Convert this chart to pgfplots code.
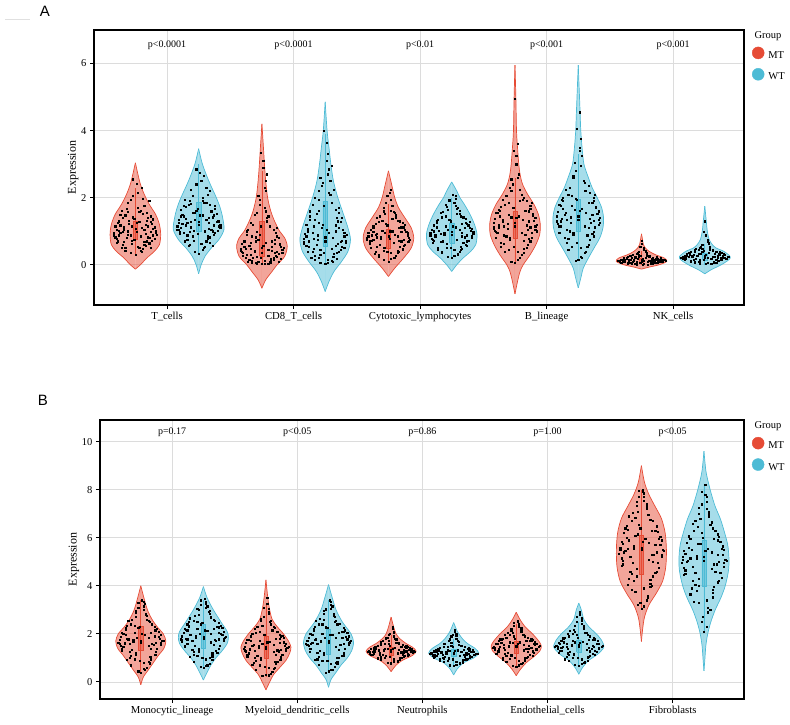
\documentclass[border=0pt]{standalone}
\usepackage{fontspec}
\setmainfont{Liberation Serif}
\newfontfamily\panelfont{Liberation Sans}
\usepackage{pgfplots}
\pgfplotsset{compat=1.18}
\definecolor{MT}{HTML}{E64B35}
\definecolor{WT}{HTML}{4DBBD5}
\definecolor{gridc}{HTML}{DCDCDC}

% violin outline: #1 id (unused), #2 centre, #3 colour, #4 table (y, half-width)
\newcommand{\violin}[4]{%
  \addplot[fill=#3, fill opacity=0.5, draw=#3, line width=0.7pt, smooth] table[row sep=\\, x expr=#2+\thisrow{w}, y=y]{#4};
  \addplot[fill=#3, fill opacity=0.5, draw=#3, line width=0.7pt, smooth] table[row sep=\\, x expr=#2-\thisrow{w}, y=y]{#4};
}
% inner box: #1 pos, #2 colour, #3 lower whisker, #4 q1, #5 median, #6 q3, #7 upper whisker
\newcommand{\inbox}[7]{%
  \addplot[draw=#2, line width=0.7pt] table[row sep=\\, x expr=#1, y=y]{y\\ #3\\ #7\\};
  \addplot[fill=#2, fill opacity=0.55, draw=#2, line width=0.5pt] table[row sep=\\, x expr=#1+\thisrow{d}, y=y]{d y\\ -0.0175 #4\\ 0.0175 #4\\ 0.0175 #6\\ -0.0175 #6\\ -0.0175 #4\\};
}
% jittered points: #1 centre, #2 table (x offset, y)
\newcommand{\pts}[2]{%
  \addplot[only marks, mark=square*, mark size=0.6pt, black] table[row sep=\\, x expr=#1+\thisrow{x}, y=y]{#2};
}

\pgfplotsset{vplot/.style={
  scale only axis, anchor=south west, clip mode=individual,
  xtick={1,2,3,4,5}, tick pos=left, tick align=outside, major tick length=4pt,
  grid=major, grid style={gridc, line width=0.8pt},
  axis line style={black, line width=1.2pt},
  tick style={black, line width=1pt},
  yticklabel style={font=\fontsize{10.5}{12}\selectfont},
  xticklabel style={font=\fontsize{10.7}{12}\selectfont},
  /pgf/number format/assume math mode=true,
  ylabel={Expression}, ylabel style={font=\fontsize{12}{13}\selectfont}, ylabel shift=-4pt,
  legend style={draw=none, fill=none, anchor=north west, inner sep=0pt,
    font=\fontsize{10.5}{12}\selectfont, row sep=6pt,
    /tikz/every odd column/.append style={column sep=2pt}},
  legend cell align=left,
}}

\begin{document}
\begin{tikzpicture}
\useasboundingbox (0,0) rectangle (790pt,-725pt);
\draw[black!12, line width=0.6pt] (5pt,-19pt) -- (30pt,-19pt);
\node[font=\panelfont\fontsize{15}{16}\selectfont] at (45pt,-11pt) {A};
\node[font=\panelfont\fontsize{15}{16}\selectfont] at (43pt,-400pt) {B};

% ================= Panel A =================
\begin{axis}[vplot,
  at={(94pt,-305pt)}, width=650pt, height=275pt,
  xmin=0.423, xmax=5.56, ymin=-1.2, ymax=7.0,
  ytick={0,2,4,6},
  xticklabels={T\_cells, CD8\_T\_cells, Cytotoxic\_lymphocytes, B\_lineage, NK\_cells},
  legend style={at={(rel axis cs:1.012,0.94)}},
]
\addlegendimage{legend image code/.code={\fill[MT] (6pt,0.3em) circle (6pt);}}
\addlegendentry{MT}
\addlegendimage{legend image code/.code={\fill[WT] (6pt,0.3em) circle (6pt);}}
\addlegendentry{WT}

% T cells MT
\violin{a1}{0.75}{MT}{y w\\ -0.13 0\\ 0 0.04\\ 0.2 0.09\\ 0.4 0.15\\ 0.6 0.19\\ 0.9 0.2\\ 1.2 0.19\\ 1.5 0.16\\ 1.8 0.11\\ 2.1 0.07\\ 2.4 0.04\\ 2.7 0.02\\ 3.04 0\\}
\inbox{0.75}{MT}{0.3}{0.75}{1.0}{1.3}{2.3}
\pts{0.75}{x y\\ -0.12 0.95\\ 0.05 1.10\\ 0.14 0.88\\ -0.03 0.72\\ 0.09 1.32\\ -0.15 1.05\\ 0.02 0.55\\ -0.08 1.48\\ 0.11 0.64\\ -0.16 0.82\\ 0.16 1.02\\ -0.05 1.22\\ 0.07 1.75\\ -0.10 0.60\\ 0.01 0.98\\ 0.12 1.45\\ -0.13 1.30\\ -0.02 2.05\\ 0.04 0.42\\ -0.07 0.80\\ 0.15 0.78\\ 0.08 0.92\\ -0.11 1.62\\ 0.03 1.58\\ -0.04 0.36\\ 0.10 1.15\\ -0.14 0.70\\ 0.06 0.48\\ -0.09 1.12\\ 0.13 1.22\\ -0.01 1.38\\ 0.05 2.30\\ -0.06 1.85\\ 0.00 0.30\\ 0.09 0.70\\ -0.17 0.96\\ 0.17 0.90\\ -0.03 0.62\\ 0.02 1.70\\ -0.12 1.18\\ 0.07 1.05\\ -0.08 0.50\\ 0.11 1.90\\ -0.02 2.55\\ 0.04 0.85\\ -0.15 0.66\\ 0.14 1.36\\ -0.06 1.00\\ 0.08 0.58\\ -0.10 1.40\\ 0.01 1.26\\ 0.12 0.52\\ -0.04 1.95\\ 0.06 1.52\\ -0.13 0.88\\}
\pts{0.75}{x y\\ 0.10 0.82\\ -0.06 0.90\\ 0.15 1.12\\ -0.13 1.02\\ 0.03 1.28\\ -0.09 0.68\\ 0.12 0.98\\ -0.16 1.15\\ 0.07 0.60\\ -0.02 1.42\\ 0.13 0.72\\ -0.11 0.52\\ 0.00 1.08\\ 0.09 1.55\\ -0.07 1.68\\ 0.05 0.38\\ -0.14 1.25\\ 0.16 0.95\\ -0.04 0.88\\ 0.08 1.20\\ -0.10 0.98\\ 0.02 2.15\\ -0.05 1.32\\ 0.11 0.80\\ -0.17 0.88\\ 0.04 1.62\\ -0.08 0.42\\ 0.14 1.08\\ -0.01 0.75\\ 0.06 1.98\\ -0.12 1.50\\ 0.10 1.40\\ -0.03 1.15\\ 0.01 2.42\\ -0.15 0.78\\ 0.07 0.68\\ -0.06 1.58\\ 0.12 1.28\\ -0.09 1.05\\ 0.03 0.50\\}

% T cells WT
\violin{a2}{1.25}{WT}{y w\\ -0.27 0\\ 0 0.02\\ 0.25 0.05\\ 0.5 0.1\\ 0.75 0.16\\ 1.05 0.2\\ 1.4 0.19\\ 1.7 0.17\\ 2.0 0.14\\ 2.5 0.08\\ 3.0 0.03\\ 3.46 0\\}
\inbox{1.25}{WT}{0.3}{1.0}{1.35}{1.85}{3.0}
\pts{1.25}{x y\\ -0.14 1.10\\ 0.06 1.35\\ 0.15 1.02\\ -0.05 0.85\\ 0.10 1.60\\ -0.16 1.25\\ 0.02 0.62\\ -0.08 1.80\\ 0.12 0.90\\ -0.12 1.45\\ 0.17 1.18\\ -0.03 1.55\\ 0.07 2.10\\ -0.09 0.75\\ 0.00 1.20\\ 0.13 1.75\\ -0.14 1.65\\ -0.02 2.40\\ 0.04 0.50\\ -0.07 0.98\\ 0.16 1.30\\ 0.08 1.08\\ -0.11 1.95\\ 0.03 1.90\\ -0.03 0.40\\ 0.11 1.42\\ -0.15 0.92\\ 0.06 0.70\\ -0.10 1.38\\ 0.14 1.52\\ -0.01 1.68\\ 0.04 2.65\\ -0.06 2.25\\ 0.00 0.32\\ 0.09 0.82\\ -0.17 1.15\\ 0.17 1.10\\ -0.04 0.72\\ 0.03 2.00\\ -0.13 1.50\\ 0.08 1.25\\ -0.07 0.60\\ 0.09 2.20\\ -0.02 2.85\\ 0.05 1.00\\ -0.16 1.05\\ 0.13 1.68\\ -0.06 1.28\\ 0.09 0.65\\ -0.10 1.72\\ 0.01 1.48\\ 0.11 0.58\\ -0.05 2.05\\ 0.06 1.85\\ -0.12 0.95\\}
\pts{1.25}{x y\\ 0.10 1.05\\ -0.06 1.12\\ 0.15 1.30\\ -0.13 1.22\\ 0.03 1.48\\ -0.09 0.88\\ 0.12 1.18\\ -0.16 1.35\\ 0.07 0.78\\ -0.02 1.62\\ 0.13 0.95\\ -0.11 0.70\\ 0.00 1.28\\ 0.09 1.78\\ -0.07 1.92\\ 0.05 0.55\\ -0.14 1.45\\ 0.16 1.15\\ -0.04 1.02\\ 0.08 1.40\\ -0.10 1.18\\ 0.02 2.50\\ -0.05 1.55\\ 0.11 1.00\\ -0.17 1.05\\ 0.04 1.85\\ -0.08 0.58\\ 0.14 1.28\\ -0.01 0.92\\ 0.06 2.30\\ -0.12 1.75\\ 0.10 1.62\\ -0.03 1.35\\ 0.01 2.75\\ -0.15 0.98\\ 0.07 0.85\\ -0.06 1.82\\ 0.12 1.48\\ -0.09 1.25\\ 0.03 0.45\\}

% CD8 MT
\violin{a3}{1.75}{MT}{y w\\ -0.7 0\\ -0.45 0.03\\ -0.2 0.08\\ 0 0.12\\ 0.25 0.18\\ 0.55 0.2\\ 0.8 0.18\\ 1.0 0.14\\ 1.3 0.1\\ 1.6 0.07\\ 2.0 0.045\\ 2.5 0.03\\ 3.0 0.02\\ 3.5 0.012\\ 4.2 0\\}
\inbox{1.75}{MT}{0.0}{0.25}{0.55}{1.3}{2.8}
\pts{1.75}{x y\\ -0.12 0.30\\ 0.05 0.45\\ 0.15 0.18\\ -0.03 0.08\\ 0.10 0.62\\ -0.16 0.40\\ 0.02 0.12\\ -0.08 0.85\\ 0.12 0.25\\ -0.14 0.55\\ 0.17 0.50\\ -0.05 0.70\\ 0.04 1.30\\ -0.10 0.15\\ 0.00 0.35\\ 0.11 0.95\\ -0.11 1.05\\ -0.02 1.80\\ 0.07 0.05\\ -0.07 0.22\\ 0.16 0.35\\ 0.08 0.42\\ -0.06 1.50\\ 0.03 1.60\\ -0.04 0.03\\ 0.10 0.75\\ -0.15 0.28\\ 0.06 0.10\\ -0.09 0.65\\ 0.13 0.80\\ -0.01 1.15\\ 0.02 2.30\\ -0.03 2.05\\ 0.00 0.02\\ 0.09 0.20\\ -0.17 0.48\\ 0.14 0.60\\ -0.05 0.06\\ 0.01 3.10\\ -0.12 0.90\\ 0.08 0.55\\ -0.08 0.12\\ 0.04 2.70\\ -0.01 3.35\\ 0.05 0.28\\ -0.13 0.20\\ 0.12 1.10\\ -0.06 0.38\\ 0.09 0.15\\ -0.09 1.25\\ 0.01 0.58\\ 0.13 0.08\\ -0.02 1.95\\ 0.05 1.45\\ -0.14 0.72\\ 0.03 2.50\\ -0.04 0.98\\}
\pts{1.75}{x y\\ 0.10 0.35\\ -0.06 0.42\\ 0.15 0.55\\ -0.13 0.48\\ 0.03 0.65\\ -0.09 0.30\\ 0.12 0.40\\ -0.16 0.62\\ 0.07 0.18\\ -0.02 0.90\\ 0.13 0.32\\ -0.11 0.10\\ 0.00 0.52\\ 0.09 1.05\\ -0.07 1.20\\ 0.05 0.04\\ -0.14 0.68\\ 0.16 0.45\\ -0.04 0.25\\ 0.08 0.70\\ -0.10 0.58\\ 0.02 1.70\\ -0.05 0.82\\ 0.11 0.28\\ -0.17 0.42\\ 0.04 1.40\\ -0.08 0.05\\ 0.14 0.62\\ -0.01 0.20\\ 0.03 2.20\\ -0.12 1.00\\ 0.06 1.15\\ -0.03 0.75\\ 0.01 2.90\\ -0.15 0.35\\ 0.07 0.12\\ -0.04 1.55\\ 0.12 0.85\\ -0.09 0.48\\ 0.02 0.02\\}

% CD8 WT
\violin{a4}{2.25}{WT}{y w\\ -0.8 0\\ -0.5 0.03\\ -0.2 0.07\\ 0.1 0.13\\ 0.4 0.18\\ 0.75 0.2\\ 1.1 0.18\\ 1.5 0.145\\ 2.0 0.1\\ 2.5 0.065\\ 3.0 0.045\\ 3.5 0.03\\ 4.0 0.015\\ 4.86 0\\}
\inbox{2.25}{WT}{0.0}{0.55}{1.0}{1.9}{3.9}
\pts{2.25}{x y\\ -0.13 0.55\\ 0.06 0.80\\ 0.16 0.65\\ -0.04 0.30\\ 0.11 1.10\\ -0.17 0.78\\ 0.02 0.15\\ -0.08 1.35\\ 0.12 0.45\\ -0.14 1.00\\ 0.17 0.90\\ -0.05 1.25\\ 0.05 1.85\\ -0.10 0.40\\ 0.00 0.70\\ 0.11 1.55\\ -0.12 1.60\\ -0.03 2.35\\ 0.06 0.10\\ -0.07 0.60\\ 0.15 0.95\\ 0.08 0.58\\ -0.08 2.00\\ 0.03 2.15\\ -0.04 0.05\\ 0.10 1.30\\ -0.15 0.85\\ 0.06 0.25\\ -0.09 1.15\\ 0.13 1.40\\ -0.01 1.75\\ 0.03 2.85\\ -0.04 2.60\\ 0.00 0.02\\ 0.09 0.35\\ -0.17 0.62\\ 0.15 0.50\\ -0.05 0.20\\ 0.01 3.65\\ -0.12 1.45\\ 0.08 1.00\\ -0.08 0.28\\ 0.05 2.95\\ -0.01 4.00\\ 0.05 0.48\\ -0.14 0.38\\ 0.11 1.70\\ -0.06 0.88\\ 0.09 0.18\\ -0.10 1.80\\ 0.01 1.05\\ 0.13 0.72\\ -0.02 2.45\\ 0.07 2.25\\ -0.15 1.20\\ 0.02 3.30\\ -0.05 1.95\\}
\pts{2.25}{x y\\ 0.10 0.62\\ -0.06 0.75\\ 0.15 0.85\\ -0.13 0.70\\ 0.03 0.95\\ -0.09 0.48\\ 0.12 0.68\\ -0.16 0.92\\ 0.07 0.32\\ -0.02 1.20\\ 0.13 0.55\\ -0.11 0.22\\ 0.00 0.82\\ 0.09 1.40\\ -0.07 1.52\\ 0.05 0.12\\ -0.14 1.08\\ 0.16 0.72\\ -0.04 0.45\\ 0.08 1.18\\ -0.10 0.95\\ 0.02 2.70\\ -0.05 1.62\\ 0.11 0.40\\ -0.17 0.68\\ 0.04 2.10\\ -0.08 0.15\\ 0.14 1.05\\ -0.01 0.35\\ 0.04 2.50\\ -0.12 1.35\\ 0.08 1.65\\ -0.03 1.10\\ 0.01 3.10\\ -0.15 0.58\\ 0.07 0.25\\ -0.05 2.20\\ 0.12 1.28\\ -0.09 0.78\\ 0.02 0.05\\}

% Cytotoxic MT
\violin{a5}{2.75}{MT}{y w\\ -0.35 0\\ -0.1 0.05\\ 0.2 0.12\\ 0.5 0.18\\ 0.8 0.2\\ 1.1 0.18\\ 1.4 0.13\\ 1.7 0.08\\ 2.0 0.05\\ 2.4 0.025\\ 2.8 0\\}
\inbox{2.75}{MT}{0.1}{0.5}{0.75}{1.05}{1.8}
\pts{2.75}{x y\\ -0.12 0.75\\ 0.05 0.90\\ 0.15 0.68\\ -0.03 0.52\\ 0.10 1.12\\ -0.16 0.85\\ 0.02 0.35\\ -0.08 1.28\\ 0.11 0.44\\ -0.15 0.62\\ 0.16 0.80\\ -0.05 1.02\\ 0.05 1.55\\ -0.10 0.40\\ 0.01 0.78\\ 0.11 1.25\\ -0.12 1.10\\ -0.02 1.85\\ 0.04 0.22\\ -0.07 0.60\\ 0.15 0.95\\ 0.08 0.72\\ -0.09 1.40\\ 0.03 1.38\\ -0.04 0.15\\ 0.10 0.98\\ -0.14 0.50\\ 0.06 0.28\\ -0.09 0.92\\ 0.13 1.05\\ -0.01 1.18\\ 0.02 2.25\\ -0.04 1.70\\ 0.00 0.10\\ 0.09 0.55\\ -0.17 0.80\\ 0.17 0.75\\ -0.04 0.42\\ 0.02 1.62\\ -0.12 0.98\\ 0.07 0.85\\ -0.08 0.30\\ 0.06 1.48\\ -0.01 2.05\\ 0.04 0.65\\ -0.15 0.70\\ 0.13 1.20\\ -0.06 0.82\\ 0.08 0.38\\ -0.10 1.22\\ 0.01 1.00\\ 0.12 0.58\\ -0.03 1.52\\ 0.07 1.32\\ -0.13 0.88\\}
\pts{2.75}{x y\\ 0.10 0.70\\ -0.06 0.78\\ 0.15 0.88\\ -0.13 0.72\\ 0.03 1.00\\ -0.09 0.55\\ 0.12 0.75\\ -0.16 0.95\\ 0.07 0.42\\ -0.02 1.22\\ 0.13 0.60\\ -0.11 0.32\\ 0.00 0.85\\ 0.09 1.30\\ -0.07 1.45\\ 0.05 0.20\\ -0.14 1.05\\ 0.16 0.70\\ -0.04 0.50\\ 0.08 1.10\\ -0.10 0.90\\ 0.02 1.95\\ -0.05 1.32\\ 0.11 0.48\\ -0.17 0.75\\ 0.04 1.58\\ -0.08 0.25\\ 0.14 0.98\\ -0.01 0.40\\ 0.03 1.75\\ -0.12 1.15\\ 0.06 1.40\\ -0.03 0.95\\ 0.01 2.15\\ -0.15 0.62\\ 0.07 0.35\\ -0.04 1.60\\ 0.12 1.12\\ -0.09 0.82\\ 0.02 0.18\\}

% Cytotoxic WT
\violin{a6}{3.25}{WT}{y w\\ -0.2 0\\ 0 0.04\\ 0.2 0.09\\ 0.4 0.15\\ 0.6 0.19\\ 0.9 0.2\\ 1.2 0.18\\ 1.5 0.145\\ 1.8 0.1\\ 2.0 0.065\\ 2.2 0.04\\ 2.47 0\\}
\inbox{3.25}{WT}{0.2}{0.65}{0.92}{1.25}{2.0}
\pts{3.25}{x y\\ -0.13 0.88\\ 0.06 1.05\\ 0.16 0.80\\ -0.04 0.62\\ 0.11 1.25\\ -0.17 0.95\\ 0.02 0.45\\ -0.08 1.42\\ 0.12 0.58\\ -0.14 0.72\\ 0.17 0.92\\ -0.05 1.15\\ 0.05 1.70\\ -0.11 0.50\\ 0.00 0.90\\ 0.11 1.38\\ -0.12 1.30\\ -0.02 1.95\\ 0.05 0.30\\ -0.07 0.70\\ 0.16 1.08\\ 0.08 0.85\\ -0.09 1.55\\ 0.04 1.52\\ -0.03 0.25\\ 0.10 1.10\\ -0.15 0.65\\ 0.06 0.38\\ -0.10 1.02\\ 0.13 1.18\\ -0.01 1.30\\ 0.03 2.05\\ -0.05 1.80\\ 0.00 0.20\\ 0.09 0.65\\ -0.17 0.86\\ 0.17 0.98\\ -0.04 0.52\\ 0.03 1.75\\ -0.12 1.12\\ 0.08 0.96\\ -0.08 0.40\\ 0.06 1.62\\ -0.02 1.90\\ 0.04 0.75\\ -0.16 0.78\\ 0.14 1.28\\ -0.06 0.95\\ 0.08 0.48\\ -0.11 1.35\\ 0.01 1.15\\ 0.12 0.70\\ -0.03 1.65\\ 0.07 1.45\\ -0.14 1.00\\}
\pts{3.25}{x y\\ 0.10 0.82\\ -0.06 0.90\\ 0.15 1.02\\ -0.13 0.85\\ 0.03 1.12\\ -0.09 0.68\\ 0.12 0.88\\ -0.16 1.05\\ 0.07 0.55\\ -0.02 1.35\\ 0.13 0.72\\ -0.11 0.45\\ 0.00 0.98\\ 0.09 1.42\\ -0.07 1.58\\ 0.05 0.32\\ -0.14 1.18\\ 0.16 0.85\\ -0.04 0.62\\ 0.08 1.22\\ -0.10 1.02\\ 0.02 1.85\\ -0.05 1.45\\ 0.11 0.60\\ -0.17 0.90\\ 0.04 1.68\\ -0.08 0.35\\ 0.14 1.10\\ -0.01 0.50\\ 0.03 1.98\\ -0.12 1.25\\ 0.06 1.52\\ -0.03 1.05\\ 0.01 2.08\\ -0.15 0.75\\ 0.07 0.45\\ -0.04 1.72\\ 0.12 1.22\\ -0.09 0.92\\ 0.02 0.28\\}

% B lineage MT
\violin{a7}{3.75}{MT}{y w\\ -0.87 0\\ -0.5 0.02\\ -0.2 0.04\\ 0 0.065\\ 0.3 0.12\\ 0.6 0.165\\ 0.9 0.195\\ 1.2 0.2\\ 1.5 0.185\\ 1.8 0.15\\ 2.1 0.1\\ 2.4 0.06\\ 2.7 0.04\\ 3.0 0.03\\ 3.5 0.02\\ 4.0 0.012\\ 5.0 0.007\\ 5.95 0\\}
\inbox{3.75}{MT}{0.05}{0.8}{1.2}{1.6}{2.6}
\pts{3.75}{x y\\ -0.13 1.10\\ 0.06 1.35\\ 0.16 1.05\\ -0.04 0.75\\ 0.11 1.60\\ -0.17 1.25\\ 0.02 0.40\\ -0.08 1.80\\ 0.12 0.70\\ -0.14 0.95\\ 0.17 1.20\\ -0.05 1.50\\ 0.05 2.10\\ -0.11 0.55\\ 0.00 1.15\\ 0.12 1.75\\ -0.13 1.65\\ -0.02 2.40\\ 0.04 0.20\\ -0.07 0.85\\ 0.16 1.40\\ 0.08 0.90\\ -0.10 1.95\\ 0.04 1.90\\ -0.03 0.10\\ 0.11 1.30\\ -0.15 0.80\\ 0.07 0.35\\ -0.10 1.28\\ 0.14 1.52\\ -0.01 1.70\\ 0.01 3.00\\ -0.03 2.55\\ 0.00 0.05\\ 0.10 0.60\\ -0.17 1.12\\ 0.17 1.00\\ -0.05 0.45\\ 0.00 4.95\\ -0.12 1.45\\ 0.09 1.18\\ -0.09 0.62\\ 0.03 2.70\\ -0.01 3.40\\ 0.05 0.95\\ -0.16 1.02\\ 0.13 1.85\\ -0.06 1.08\\ 0.09 0.50\\ -0.11 1.72\\ 0.01 1.40\\ 0.13 0.80\\ -0.03 2.20\\ 0.07 2.00\\ -0.15 1.55\\}
\pts{3.75}{x y\\ 0.10 1.05\\ -0.06 1.22\\ 0.15 1.32\\ -0.13 1.18\\ 0.03 1.45\\ -0.09 0.88\\ 0.12 1.12\\ -0.16 1.38\\ 0.07 0.72\\ -0.02 1.70\\ 0.13 0.95\\ -0.11 0.65\\ 0.00 1.25\\ 0.09 1.90\\ -0.07 2.05\\ 0.05 0.30\\ -0.14 1.55\\ 0.16 1.15\\ -0.04 0.80\\ 0.08 1.62\\ -0.10 1.35\\ 0.02 2.60\\ -0.05 1.85\\ 0.11 0.78\\ -0.17 1.08\\ 0.04 2.25\\ -0.08 0.40\\ 0.14 1.48\\ -0.01 0.55\\ 0.02 3.60\\ -0.12 1.62\\ 0.06 1.95\\ -0.03 1.42\\ 0.01 3.25\\ -0.15 0.98\\ 0.07 0.48\\ -0.04 2.30\\ 0.12 1.68\\ -0.09 1.15\\ 0.02 0.15\\}

% B lineage WT
\violin{a8}{4.25}{WT}{y w\\ -0.69 0\\ -0.4 0.02\\ -0.1 0.04\\ 0.2 0.08\\ 0.5 0.125\\ 0.8 0.17\\ 1.1 0.195\\ 1.4 0.2\\ 1.7 0.185\\ 2.0 0.15\\ 2.3 0.11\\ 2.6 0.08\\ 3.0 0.045\\ 3.5 0.03\\ 4.0 0.02\\ 4.5 0.015\\ 5.0 0.01\\ 5.95 0\\}
\inbox{4.25}{WT}{0.1}{1.0}{1.4}{1.95}{3.3}
\pts{4.25}{x y\\ -0.14 1.30\\ 0.06 1.55\\ 0.16 1.20\\ -0.04 0.90\\ 0.11 1.85\\ -0.17 1.45\\ 0.02 0.50\\ -0.08 2.10\\ 0.12 0.85\\ -0.14 1.15\\ 0.17 1.40\\ -0.05 1.75\\ 0.05 2.45\\ -0.09 0.65\\ 0.00 1.35\\ 0.12 2.00\\ -0.13 1.95\\ -0.02 2.80\\ 0.03 0.20\\ -0.07 1.00\\ 0.16 1.60\\ 0.08 1.10\\ -0.10 2.25\\ 0.05 2.20\\ -0.02 0.12\\ 0.11 1.50\\ -0.15 0.95\\ 0.06 0.40\\ -0.11 1.50\\ 0.14 1.72\\ -0.01 1.95\\ 0.01 3.50\\ -0.03 3.05\\ 0.00 0.15\\ 0.09 0.75\\ -0.17 1.30\\ 0.17 1.25\\ -0.05 0.55\\ 0.01 4.55\\ -0.12 1.68\\ 0.09 1.38\\ -0.08 0.78\\ 0.03 3.25\\ -0.01 4.05\\ 0.05 1.15\\ -0.16 1.22\\ 0.13 2.10\\ -0.06 1.25\\ 0.08 0.60\\ -0.12 2.00\\ 0.01 1.62\\ 0.12 0.98\\ -0.04 2.60\\ 0.08 2.35\\ -0.15 1.80\\}
\pts{4.25}{x y\\ 0.10 1.25\\ -0.06 1.42\\ 0.15 1.52\\ -0.13 1.38\\ 0.03 1.68\\ -0.09 1.05\\ 0.12 1.32\\ -0.16 1.58\\ 0.07 0.88\\ -0.02 1.98\\ 0.13 1.12\\ -0.11 0.80\\ 0.00 1.45\\ 0.09 2.15\\ -0.07 2.30\\ 0.05 0.35\\ -0.14 1.75\\ 0.16 1.35\\ -0.04 0.95\\ 0.08 1.85\\ -0.10 1.55\\ 0.02 2.95\\ -0.05 2.05\\ 0.11 0.92\\ -0.17 1.28\\ 0.04 2.50\\ -0.08 0.45\\ 0.14 1.70\\ -0.01 0.65\\ 0.02 3.75\\ -0.12 1.90\\ 0.06 2.20\\ -0.03 1.65\\ 0.01 3.40\\ -0.15 1.15\\ 0.07 0.55\\ -0.04 2.65\\ 0.12 1.92\\ -0.09 1.35\\ 0.02 0.25\\}

% NK MT
\violin{a9}{4.75}{MT}{y w\\ -0.13 0\\ -0.07 0.06\\ 0 0.14\\ 0.1 0.2\\ 0.2 0.18\\ 0.3 0.11\\ 0.4 0.06\\ 0.5 0.03\\ 0.6 0.015\\ 0.75 0.008\\ 0.92 0\\}
\inbox{4.75}{MT}{0.0}{0.06}{0.12}{0.2}{0.42}
\pts{4.75}{x y\\ -0.15 0.08\\ 0.06 0.12\\ 0.17 0.10\\ -0.04 0.04\\ 0.11 0.18\\ -0.18 0.12\\ 0.02 0.02\\ -0.08 0.22\\ 0.13 0.06\\ -0.13 0.15\\ 0.18 0.14\\ -0.05 0.20\\ 0.04 0.32\\ -0.11 0.05\\ 0.00 0.10\\ 0.12 0.24\\ -0.14 0.22\\ -0.02 0.38\\ 0.08 0.03\\ -0.07 0.09\\ 0.16 0.16\\ 0.09 0.08\\ -0.09 0.28\\ 0.04 0.28\\ -0.04 0.01\\ 0.10 0.15\\ -0.16 0.07\\ 0.07 0.05\\ -0.10 0.14\\ 0.15 0.20\\ -0.01 0.26\\ 0.02 0.45\\ -0.03 0.35\\ 0.01 0.01\\ 0.10 0.06\\ -0.19 0.11\\ 0.19 0.12\\ -0.05 0.03\\ 0.00 0.72\\ -0.12 0.18\\ 0.08 0.13\\ -0.08 0.04\\ 0.03 0.40\\ -0.01 0.55\\ 0.05 0.09\\ -0.17 0.10\\ 0.13 0.19\\ -0.06 0.13\\ 0.09 0.02\\ -0.11 0.24\\ 0.01 0.17\\ 0.14 0.09\\ -0.02 0.30\\ 0.06 0.25\\ -0.14 0.16\\}
\pts{4.75}{x y\\ 0.10 0.10\\ -0.06 0.14\\ 0.15 0.08\\ -0.13 0.10\\ 0.03 0.20\\ -0.09 0.06\\ 0.12 0.16\\ -0.16 0.14\\ 0.07 0.04\\ -0.02 0.24\\ 0.13 0.12\\ -0.11 0.02\\ 0.00 0.15\\ 0.09 0.22\\ -0.07 0.30\\ 0.05 0.01\\ -0.14 0.17\\ 0.16 0.09\\ -0.04 0.08\\ 0.08 0.18\\ -0.10 0.12\\ 0.02 0.50\\ -0.05 0.25\\ 0.11 0.05\\ -0.17 0.13\\ 0.04 0.35\\ -0.08 0.02\\ 0.14 0.14\\ -0.01 0.06\\ 0.03 0.42\\ -0.12 0.20\\ 0.06 0.27\\ -0.03 0.18\\ 0.00 0.62\\ -0.15 0.09\\ 0.07 0.02\\ -0.04 0.32\\ 0.12 0.21\\ -0.09 0.16\\ 0.02 0.12\\}

% NK WT
\violin{a10}{5.25}{WT}{y w\\ -0.27 0\\ -0.15 0.05\\ 0 0.13\\ 0.15 0.19\\ 0.25 0.2\\ 0.4 0.15\\ 0.5 0.09\\ 0.6 0.06\\ 0.75 0.035\\ 1.0 0.02\\ 1.3 0.012\\ 1.75 0\\}
\inbox{5.25}{WT}{0.0}{0.13}{0.22}{0.33}{0.62}
\pts{5.25}{x y\\ -0.15 0.20\\ 0.06 0.25\\ 0.17 0.18\\ -0.04 0.10\\ 0.11 0.32\\ -0.18 0.22\\ 0.02 0.05\\ -0.08 0.38\\ 0.13 0.14\\ -0.14 0.28\\ 0.18 0.24\\ -0.05 0.34\\ 0.04 0.50\\ -0.11 0.12\\ 0.00 0.22\\ 0.12 0.40\\ -0.13 0.36\\ -0.02 0.60\\ 0.07 0.06\\ -0.07 0.18\\ 0.16 0.29\\ 0.09 0.16\\ -0.08 0.45\\ 0.04 0.46\\ -0.04 0.02\\ 0.10 0.27\\ -0.16 0.15\\ 0.07 0.09\\ -0.10 0.26\\ 0.15 0.33\\ -0.01 0.42\\ 0.02 0.68\\ -0.03 0.55\\ 0.01 0.03\\ 0.10 0.12\\ -0.19 0.21\\ 0.19 0.23\\ -0.05 0.08\\ 0.00 1.30\\ -0.12 0.31\\ 0.08 0.24\\ -0.08 0.10\\ 0.03 0.62\\ -0.01 0.98\\ 0.05 0.19\\ -0.17 0.17\\ 0.13 0.37\\ -0.06 0.26\\ 0.09 0.07\\ -0.11 0.40\\ 0.01 0.30\\ 0.14 0.20\\ -0.02 0.48\\ 0.06 0.41\\ -0.14 0.28\\}
\pts{5.25}{x y\\ 0.10 0.22\\ -0.06 0.28\\ 0.15 0.20\\ -0.13 0.24\\ 0.03 0.35\\ -0.09 0.15\\ 0.12 0.30\\ -0.16 0.26\\ 0.07 0.10\\ -0.02 0.40\\ 0.13 0.22\\ -0.11 0.08\\ 0.00 0.28\\ 0.09 0.38\\ -0.07 0.48\\ 0.05 0.04\\ -0.14 0.32\\ 0.16 0.20\\ -0.04 0.14\\ 0.08 0.34\\ -0.10 0.24\\ 0.02 0.75\\ -0.05 0.44\\ 0.11 0.12\\ -0.17 0.25\\ 0.04 0.55\\ -0.08 0.05\\ 0.14 0.28\\ -0.01 0.16\\ 0.03 0.65\\ -0.12 0.36\\ 0.06 0.45\\ -0.03 0.32\\ 0.01 0.88\\ -0.15 0.18\\ 0.07 0.06\\ -0.04 0.52\\ 0.12 0.35\\ -0.09 0.30\\ 0.02 0.20\\}

\node[font=\fontsize{10}{12}\selectfont] at (axis cs:1,6.55) {p<0.0001};
\node[font=\fontsize{10}{12}\selectfont] at (axis cs:2,6.55) {p<0.0001};
\node[font=\fontsize{10}{12}\selectfont] at (axis cs:3,6.55) {p<0.01};
\node[font=\fontsize{10}{12}\selectfont] at (axis cs:4,6.55) {p<0.001};
\node[font=\fontsize{10}{12}\selectfont] at (axis cs:5,6.55) {p<0.001};
\node[anchor=west, font=\fontsize{10.5}{12}\selectfont, xshift=7pt, yshift=-6pt] at (rel axis cs:1,1) {Group};
\end{axis}

% ================= Panel B =================
\begin{axis}[vplot,
  at={(100pt,-699pt)}, width=644pt, height=279pt,
  xmin=0.424, xmax=5.57, ymin=-0.71, ymax=10.9,
  ytick={0,2,4,6,8,10},
  xticklabels={Monocytic\_lineage, Myeloid\_dendritic\_cells, Neutrophils, Endothelial\_cells, Fibroblasts},
  legend style={at={(rel axis cs:1.012,0.94)}},
]
\addlegendimage{legend image code/.code={\fill[MT] (6pt,0.3em) circle (6pt);}}
\addlegendentry{MT}
\addlegendimage{legend image code/.code={\fill[WT] (6pt,0.3em) circle (6pt);}}
\addlegendentry{WT}

% Monocytic MT
\violin{b1}{0.75}{MT}{y w\\ -0.12 0\\ 0.2 0.02\\ 0.5 0.06\\ 0.8 0.1\\ 1.1 0.14\\ 1.4 0.185\\ 1.7 0.2\\ 2.0 0.18\\ 2.3 0.13\\ 2.6 0.09\\ 3.0 0.053\\ 3.5 0.025\\ 4.0 0\\}
\inbox{0.75}{MT}{0.4}{1.3}{1.8}{2.3}{3.4}
\pts{0.75}{x y\\ -0.13 1.60\\ 0.06 1.85\\ 0.16 1.55\\ -0.04 1.20\\ 0.11 2.15\\ -0.17 1.75\\ 0.02 0.80\\ -0.08 2.40\\ 0.12 1.15\\ -0.14 1.45\\ 0.17 1.70\\ -0.05 2.05\\ 0.05 2.75\\ -0.09 1.00\\ 0.00 1.65\\ 0.11 2.30\\ -0.12 2.25\\ -0.02 3.10\\ 0.03 0.50\\ -0.07 1.35\\ 0.16 1.95\\ 0.08 1.40\\ -0.10 2.55\\ 0.05 2.60\\ -0.02 0.45\\ 0.11 1.90\\ -0.15 1.30\\ 0.06 0.85\\ -0.11 1.80\\ 0.14 2.10\\ -0.01 2.30\\ 0.02 3.35\\ -0.04 2.95\\ 0.00 0.40\\ 0.08 1.05\\ -0.18 1.62\\ 0.18 1.72\\ -0.05 0.95\\ 0.03 3.25\\ -0.12 1.95\\ 0.09 1.60\\ -0.08 1.10\\ 0.04 2.85\\ -0.02 3.30\\ 0.06 1.50\\ -0.16 1.52\\ 0.13 2.20\\ -0.06 1.75\\ 0.08 0.95\\ -0.11 2.35\\ 0.01 2.00\\ 0.12 1.25\\ -0.04 2.70\\ 0.07 2.50\\ -0.15 2.05\\}
\pts{0.75}{x y\\ 0.10 1.55\\ -0.06 1.68\\ 0.15 1.80\\ -0.13 1.62\\ 0.03 1.95\\ -0.09 1.25\\ 0.12 1.62\\ -0.16 1.88\\ 0.07 1.05\\ -0.02 2.25\\ 0.13 1.38\\ -0.11 0.92\\ 0.00 1.72\\ 0.09 2.40\\ -0.07 2.60\\ 0.05 0.60\\ -0.14 2.00\\ 0.16 1.62\\ -0.04 1.15\\ 0.08 2.05\\ -0.10 1.78\\ 0.02 3.15\\ -0.05 2.35\\ 0.11 1.12\\ -0.17 1.58\\ 0.04 2.80\\ -0.08 0.70\\ 0.14 1.88\\ -0.01 0.88\\ 0.02 3.00\\ -0.12 2.18\\ 0.06 2.55\\ -0.03 1.85\\ 0.01 3.40\\ -0.15 1.38\\ 0.07 0.78\\ -0.04 2.90\\ 0.12 2.12\\ -0.09 1.58\\ 0.02 0.55\\}

% Monocytic WT
\violin{b2}{1.25}{WT}{y w\\ 0.08 0\\ 0.4 0.03\\ 0.7 0.06\\ 1.0 0.1\\ 1.3 0.15\\ 1.6 0.19\\ 1.85 0.2\\ 2.1 0.19\\ 2.5 0.14\\ 3.0 0.08\\ 3.5 0.03\\ 3.97 0\\}
\inbox{1.25}{WT}{0.6}{1.4}{1.95}{2.4}{3.4}
\pts{1.25}{x y\\ -0.14 1.80\\ 0.06 2.00\\ 0.16 1.70\\ -0.04 1.40\\ 0.11 2.30\\ -0.17 1.90\\ 0.02 0.95\\ -0.08 2.55\\ 0.10 1.30\\ -0.13 1.60\\ 0.17 1.85\\ -0.05 2.20\\ 0.05 2.85\\ -0.08 1.15\\ 0.00 1.80\\ 0.12 2.45\\ -0.13 2.40\\ -0.02 3.20\\ 0.03 0.70\\ -0.07 1.50\\ 0.16 2.10\\ 0.08 1.55\\ -0.11 2.65\\ 0.06 2.70\\ -0.02 0.65\\ 0.12 2.05\\ -0.15 1.45\\ 0.05 1.00\\ -0.11 1.95\\ 0.15 2.25\\ -0.01 2.45\\ 0.02 3.35\\ -0.05 3.05\\ 0.00 0.60\\ 0.07 1.20\\ -0.18 1.78\\ 0.18 1.88\\ -0.05 1.10\\ 0.03 3.15\\ -0.13 2.15\\ 0.09 1.75\\ -0.08 1.25\\ 0.05 2.95\\ -0.02 3.40\\ 0.06 1.65\\ -0.17 1.68\\ 0.14 2.35\\ -0.06 1.90\\ 0.07 1.05\\ -0.12 2.50\\ 0.01 2.15\\ 0.12 1.40\\ -0.04 2.80\\ 0.08 2.60\\ -0.15 2.20\\}
\pts{1.25}{x y\\ 0.10 1.72\\ -0.06 1.85\\ 0.15 1.95\\ -0.13 1.78\\ 0.03 2.12\\ -0.09 1.35\\ 0.12 1.78\\ -0.16 2.05\\ 0.07 1.15\\ -0.02 2.40\\ 0.13 1.52\\ -0.11 1.05\\ 0.00 1.88\\ 0.09 2.55\\ -0.07 2.75\\ 0.05 0.75\\ -0.14 2.18\\ 0.16 1.80\\ -0.04 1.28\\ 0.08 2.22\\ -0.10 1.95\\ 0.02 3.25\\ -0.05 2.50\\ 0.11 1.22\\ -0.17 1.75\\ 0.04 2.92\\ -0.08 0.85\\ 0.14 2.02\\ -0.01 1.00\\ 0.02 3.10\\ -0.12 2.32\\ 0.06 2.68\\ -0.03 2.00\\ 0.01 3.45\\ -0.15 1.52\\ 0.07 0.92\\ -0.04 3.00\\ 0.12 2.28\\ -0.09 1.72\\ 0.02 0.68\\}

% Myeloid MT
\violin{b3}{1.75}{MT}{y w\\ -0.33 0\\ 0 0.03\\ 0.3 0.06\\ 0.6 0.11\\ 0.9 0.16\\ 1.2 0.19\\ 1.45 0.2\\ 1.7 0.18\\ 2.0 0.14\\ 2.3 0.09\\ 2.6 0.05\\ 3.0 0.03\\ 3.5 0.015\\ 4.25 0\\}
\inbox{1.75}{MT}{0.2}{1.0}{1.45}{1.9}{3.2}
\pts{1.75}{x y\\ -0.13 1.35\\ 0.06 1.55\\ 0.16 1.30\\ -0.04 1.00\\ 0.11 1.80\\ -0.17 1.48\\ 0.02 0.60\\ -0.08 2.05\\ 0.12 0.95\\ -0.14 1.20\\ 0.17 1.42\\ -0.05 1.72\\ 0.04 2.40\\ -0.10 0.80\\ 0.00 1.40\\ 0.11 1.95\\ -0.12 1.90\\ -0.02 2.70\\ 0.04 0.35\\ -0.07 1.10\\ 0.16 1.60\\ 0.08 1.15\\ -0.09 2.20\\ 0.05 2.15\\ -0.03 0.25\\ 0.11 1.62\\ -0.15 1.05\\ 0.06 0.55\\ -0.11 1.50\\ 0.14 1.85\\ -0.01 1.95\\ 0.01 3.50\\ -0.04 2.55\\ 0.00 0.30\\ 0.09 0.85\\ -0.18 1.38\\ 0.18 1.45\\ -0.05 0.70\\ 0.02 2.90\\ -0.12 1.70\\ 0.09 1.32\\ -0.08 0.90\\ 0.03 2.50\\ -0.02 3.10\\ 0.06 1.25\\ -0.16 1.28\\ 0.13 1.92\\ -0.06 1.50\\ 0.08 0.75\\ -0.11 2.00\\ 0.01 1.65\\ 0.12 1.05\\ -0.03 2.35\\ 0.07 2.25\\ -0.15 1.75\\}
\pts{1.75}{x y\\ 0.10 1.28\\ -0.06 1.42\\ 0.15 1.52\\ -0.13 1.38\\ 0.03 1.68\\ -0.09 1.02\\ 0.12 1.35\\ -0.16 1.62\\ 0.07 0.85\\ -0.02 1.98\\ 0.13 1.15\\ -0.11 0.72\\ 0.00 1.48\\ 0.09 2.10\\ -0.07 2.30\\ 0.05 0.42\\ -0.14 1.75\\ 0.16 1.38\\ -0.04 0.95\\ 0.08 1.80\\ -0.10 1.55\\ 0.02 2.85\\ -0.05 2.08\\ 0.11 0.92\\ -0.17 1.32\\ 0.04 2.55\\ -0.08 0.50\\ 0.14 1.65\\ -0.01 0.65\\ 0.02 3.05\\ -0.12 1.90\\ 0.06 2.30\\ -0.03 1.60\\ 0.01 3.25\\ -0.15 1.12\\ 0.07 0.58\\ -0.04 2.62\\ 0.12 1.88\\ -0.09 1.30\\ 0.02 0.28\\}

% Myeloid WT
\violin{b4}{2.25}{WT}{y w\\ -0.22 0\\ 0.1 0.02\\ 0.4 0.06\\ 0.7 0.1\\ 1.0 0.15\\ 1.3 0.185\\ 1.65 0.2\\ 2.0 0.18\\ 2.5 0.11\\ 3.0 0.06\\ 3.5 0.03\\ 4.05 0\\}
\inbox{2.25}{WT}{0.4}{1.15}{1.7}{2.2}{3.4}
\pts{2.25}{x y\\ -0.14 1.60\\ 0.06 1.85\\ 0.16 1.55\\ -0.04 1.20\\ 0.11 2.10\\ -0.17 1.72\\ 0.02 0.75\\ -0.08 2.40\\ 0.12 1.10\\ -0.14 1.40\\ 0.17 1.65\\ -0.05 2.00\\ 0.05 2.70\\ -0.09 0.95\\ 0.00 1.65\\ 0.12 2.25\\ -0.12 2.20\\ -0.02 3.05\\ 0.03 0.50\\ -0.07 1.30\\ 0.16 1.90\\ 0.08 1.35\\ -0.10 2.55\\ 0.05 2.50\\ -0.02 0.40\\ 0.11 1.85\\ -0.15 1.25\\ 0.06 0.80\\ -0.11 1.75\\ 0.15 2.05\\ -0.01 2.25\\ 0.02 3.35\\ -0.04 2.85\\ 0.00 0.45\\ 0.08 1.00\\ -0.18 1.58\\ 0.18 1.70\\ -0.05 0.90\\ 0.03 3.15\\ -0.13 1.95\\ 0.09 1.55\\ -0.08 1.05\\ 0.04 2.75\\ -0.02 3.00\\ 0.06 1.45\\ -0.16 1.50\\ 0.13 2.15\\ -0.06 1.70\\ 0.07 0.85\\ -0.11 2.30\\ 0.01 1.95\\ 0.12 1.20\\ -0.04 2.60\\ 0.07 2.40\\ -0.15 2.00\\}
\pts{2.25}{x y\\ 0.10 1.55\\ -0.06 1.68\\ 0.15 1.78\\ -0.13 1.62\\ 0.03 1.95\\ -0.09 1.22\\ 0.12 1.60\\ -0.16 1.85\\ 0.07 1.02\\ -0.02 2.28\\ 0.13 1.38\\ -0.11 0.92\\ 0.00 1.72\\ 0.09 2.42\\ -0.07 2.62\\ 0.05 0.62\\ -0.14 2.00\\ 0.16 1.62\\ -0.04 1.12\\ 0.08 2.05\\ -0.10 1.78\\ 0.02 3.20\\ -0.05 2.40\\ 0.11 1.10\\ -0.17 1.55\\ 0.04 2.85\\ -0.08 0.72\\ 0.14 1.88\\ -0.01 0.88\\ 0.02 3.05\\ -0.12 2.15\\ 0.06 2.55\\ -0.03 1.85\\ 0.01 3.40\\ -0.15 1.38\\ 0.07 0.78\\ -0.04 2.95\\ 0.12 2.10\\ -0.09 1.58\\ 0.02 0.52\\}

% Neutrophils MT
\violin{b5}{2.75}{MT}{y w\\ 0.43 0\\ 0.7 0.04\\ 0.9 0.09\\ 1.1 0.17\\ 1.28 0.2\\ 1.45 0.17\\ 1.6 0.12\\ 1.8 0.07\\ 2.0 0.04\\ 2.3 0.02\\ 2.7 0\\}
\inbox{2.75}{MT}{0.8}{1.12}{1.28}{1.45}{1.95}
\pts{2.75}{x y\\ -0.15 1.25\\ 0.06 1.35\\ 0.17 1.22\\ -0.04 1.10\\ 0.11 1.45\\ -0.18 1.30\\ 0.02 0.95\\ -0.08 1.55\\ 0.13 1.08\\ -0.14 1.18\\ 0.18 1.28\\ -0.05 1.40\\ 0.04 1.75\\ -0.11 1.02\\ 0.00 1.28\\ 0.12 1.50\\ -0.13 1.48\\ -0.02 1.95\\ 0.05 0.85\\ -0.07 1.15\\ 0.16 1.36\\ 0.09 1.14\\ -0.08 1.65\\ 0.04 1.62\\ -0.03 0.80\\ 0.10 1.32\\ -0.16 1.12\\ 0.07 0.98\\ -0.10 1.30\\ 0.15 1.42\\ -0.01 1.52\\ 0.01 2.30\\ -0.03 1.85\\ 0.00 0.78\\ 0.10 1.05\\ -0.19 1.26\\ 0.19 1.27\\ -0.05 1.00\\ 0.02 2.10\\ -0.12 1.40\\ 0.08 1.24\\ -0.08 1.06\\ 0.03 1.80\\ -0.01 2.00\\ 0.05 1.20\\ -0.17 1.20\\ 0.13 1.45\\ -0.06 1.32\\ 0.08 1.00\\ -0.11 1.50\\ 0.01 1.38\\ 0.14 1.15\\ -0.02 1.70\\ 0.06 1.58\\ -0.14 1.35\\}
\pts{2.75}{x y\\ 0.10 1.22\\ -0.06 1.30\\ 0.15 1.35\\ -0.13 1.28\\ 0.03 1.42\\ -0.09 1.12\\ 0.12 1.28\\ -0.16 1.38\\ 0.07 1.02\\ -0.02 1.60\\ 0.13 1.18\\ -0.11 0.98\\ 0.00 1.32\\ 0.09 1.55\\ -0.07 1.70\\ 0.05 0.90\\ -0.14 1.42\\ 0.16 1.25\\ -0.04 1.08\\ 0.08 1.45\\ -0.10 1.35\\ 0.02 2.05\\ -0.05 1.58\\ 0.11 1.08\\ -0.17 1.24\\ 0.04 1.78\\ -0.08 0.95\\ 0.14 1.35\\ -0.01 1.05\\ 0.02 1.90\\ -0.12 1.48\\ 0.06 1.62\\ -0.03 1.40\\ 0.01 2.20\\ -0.15 1.15\\ 0.07 0.92\\ -0.04 1.82\\ 0.12 1.42\\ -0.09 1.22\\ 0.02 0.85\\}

% Neutrophils WT
\violin{b6}{3.25}{WT}{y w\\ 0.29 0\\ 0.55 0.03\\ 0.8 0.08\\ 1.0 0.16\\ 1.2 0.2\\ 1.4 0.17\\ 1.6 0.11\\ 1.8 0.07\\ 2.1 0.03\\ 2.47 0\\}
\inbox{3.25}{WT}{0.68}{1.05}{1.2}{1.35}{1.8}
\pts{3.25}{x y\\ -0.15 1.15\\ 0.06 1.25\\ 0.17 1.12\\ -0.04 1.00\\ 0.11 1.38\\ -0.18 1.20\\ 0.02 0.85\\ -0.08 1.48\\ 0.13 1.00\\ -0.14 1.08\\ 0.18 1.18\\ -0.05 1.32\\ 0.04 1.68\\ -0.11 0.95\\ 0.00 1.20\\ 0.12 1.42\\ -0.13 1.40\\ -0.02 1.90\\ 0.05 0.75\\ -0.07 1.05\\ 0.16 1.26\\ 0.09 1.05\\ -0.08 1.58\\ 0.04 1.55\\ -0.03 0.70\\ 0.10 1.22\\ -0.16 1.02\\ 0.07 0.88\\ -0.10 1.22\\ 0.15 1.32\\ -0.01 1.45\\ 0.01 2.15\\ -0.03 1.78\\ 0.00 0.68\\ 0.10 0.95\\ -0.19 1.16\\ 0.19 1.18\\ -0.05 0.90\\ 0.02 2.00\\ -0.12 1.30\\ 0.08 1.15\\ -0.08 0.98\\ 0.03 1.72\\ -0.01 1.95\\ 0.05 1.10\\ -0.17 1.10\\ 0.13 1.36\\ -0.06 1.25\\ 0.08 0.92\\ -0.11 1.42\\ 0.01 1.30\\ 0.14 1.06\\ -0.02 1.62\\ 0.06 1.50\\ -0.14 1.26\\}
\pts{3.25}{x y\\ 0.10 1.12\\ -0.06 1.20\\ 0.15 1.25\\ -0.13 1.18\\ 0.03 1.32\\ -0.09 1.02\\ 0.12 1.18\\ -0.16 1.28\\ 0.07 0.92\\ -0.02 1.50\\ 0.13 1.08\\ -0.11 0.88\\ 0.00 1.22\\ 0.09 1.45\\ -0.07 1.60\\ 0.05 0.80\\ -0.14 1.32\\ 0.16 1.15\\ -0.04 0.98\\ 0.08 1.35\\ -0.10 1.25\\ 0.02 1.92\\ -0.05 1.48\\ 0.11 0.98\\ -0.17 1.14\\ 0.04 1.68\\ -0.08 0.85\\ 0.14 1.25\\ -0.01 0.95\\ 0.02 1.80\\ -0.12 1.38\\ 0.06 1.52\\ -0.03 1.30\\ 0.01 2.10\\ -0.15 1.05\\ 0.07 0.82\\ -0.04 1.72\\ 0.12 1.32\\ -0.09 1.12\\ 0.02 0.72\\}

% Endothelial MT
\violin{b7}{3.75}{MT}{y w\\ 0.26 0\\ 0.5 0.03\\ 0.8 0.08\\ 1.05 0.14\\ 1.3 0.19\\ 1.5 0.2\\ 1.7 0.18\\ 2.0 0.13\\ 2.3 0.07\\ 2.6 0.03\\ 2.9 0\\}
\inbox{3.75}{MT}{0.62}{1.2}{1.45}{1.7}{2.4}
\pts{3.75}{x y\\ -0.14 1.40\\ 0.06 1.55\\ 0.16 1.35\\ -0.04 1.15\\ 0.11 1.70\\ -0.18 1.48\\ 0.02 0.90\\ -0.08 1.85\\ 0.13 1.10\\ -0.14 1.28\\ 0.18 1.45\\ -0.05 1.65\\ 0.04 2.10\\ -0.11 1.00\\ 0.00 1.45\\ 0.12 1.80\\ -0.13 1.78\\ -0.02 2.35\\ 0.04 0.75\\ -0.07 1.22\\ 0.16 1.58\\ 0.09 1.25\\ -0.09 1.95\\ 0.05 1.98\\ -0.03 0.68\\ 0.10 1.50\\ -0.16 1.18\\ 0.07 0.95\\ -0.10 1.42\\ 0.15 1.68\\ -0.01 1.80\\ 0.01 2.50\\ -0.04 2.20\\ 0.00 0.62\\ 0.09 1.05\\ -0.19 1.44\\ 0.19 1.50\\ -0.05 0.98\\ 0.02 2.40\\ -0.12 1.62\\ 0.08 1.40\\ -0.08 1.08\\ 0.04 2.15\\ -0.02 2.45\\ 0.06 1.32\\ -0.17 1.36\\ 0.13 1.75\\ -0.06 1.52\\ 0.08 1.02\\ -0.11 1.80\\ 0.01 1.60\\ 0.14 1.22\\ -0.03 2.05\\ 0.07 1.90\\ -0.15 1.58\\}
\pts{3.75}{x y\\ 0.10 1.38\\ -0.06 1.48\\ 0.15 1.55\\ -0.13 1.45\\ 0.03 1.65\\ -0.09 1.18\\ 0.12 1.42\\ -0.16 1.60\\ 0.07 1.02\\ -0.02 1.90\\ 0.13 1.28\\ -0.11 0.92\\ 0.00 1.52\\ 0.09 1.85\\ -0.07 2.05\\ 0.05 0.80\\ -0.14 1.70\\ 0.16 1.40\\ -0.04 1.10\\ 0.08 1.72\\ -0.10 1.55\\ 0.02 2.38\\ -0.05 1.95\\ 0.11 1.15\\ -0.17 1.42\\ 0.04 2.25\\ -0.08 0.85\\ 0.14 1.58\\ -0.01 1.00\\ 0.02 2.30\\ -0.12 1.78\\ 0.06 1.98\\ -0.03 1.62\\ 0.01 2.55\\ -0.15 1.28\\ 0.07 0.88\\ -0.04 2.12\\ 0.12 1.72\\ -0.09 1.35\\ 0.02 0.70\\}

% Endothelial WT
\violin{b8}{4.25}{WT}{y w\\ 0.32 0\\ 0.6 0.03\\ 0.9 0.08\\ 1.15 0.15\\ 1.45 0.2\\ 1.75 0.18\\ 2.0 0.14\\ 2.3 0.08\\ 2.6 0.04\\ 3.0 0.02\\ 3.28 0\\}
\inbox{4.25}{WT}{0.68}{1.25}{1.5}{1.75}{2.5}
\pts{4.25}{x y\\ -0.14 1.42\\ 0.06 1.58\\ 0.16 1.38\\ -0.04 1.18\\ 0.11 1.75\\ -0.18 1.50\\ 0.02 0.95\\ -0.08 1.90\\ 0.13 1.15\\ -0.14 1.30\\ 0.18 1.47\\ -0.05 1.70\\ 0.04 2.20\\ -0.10 1.05\\ 0.00 1.48\\ 0.12 1.85\\ -0.13 1.82\\ -0.02 2.50\\ 0.04 0.80\\ -0.07 1.25\\ 0.16 1.60\\ 0.09 1.28\\ -0.09 2.00\\ 0.05 2.05\\ -0.03 0.72\\ 0.11 1.52\\ -0.16 1.22\\ 0.07 1.00\\ -0.10 1.45\\ 0.15 1.70\\ -0.01 1.85\\ 0.01 2.90\\ -0.03 2.35\\ 0.00 0.68\\ 0.09 1.10\\ -0.19 1.46\\ 0.19 1.52\\ -0.05 1.02\\ 0.02 2.65\\ -0.12 1.65\\ 0.08 1.44\\ -0.08 1.12\\ 0.04 2.28\\ -0.02 2.70\\ 0.06 1.35\\ -0.17 1.40\\ 0.13 1.78\\ -0.06 1.55\\ 0.08 1.05\\ -0.11 1.85\\ 0.01 1.62\\ 0.14 1.25\\ -0.03 2.10\\ 0.07 1.95\\ -0.15 1.60\\}
\pts{4.25}{x y\\ 0.10 1.40\\ -0.06 1.50\\ 0.15 1.58\\ -0.13 1.48\\ 0.03 1.68\\ -0.09 1.20\\ 0.12 1.45\\ -0.16 1.62\\ 0.07 1.05\\ -0.02 1.95\\ 0.13 1.30\\ -0.11 0.95\\ 0.00 1.55\\ 0.09 1.90\\ -0.07 2.12\\ 0.05 0.82\\ -0.14 1.72\\ 0.16 1.42\\ -0.04 1.12\\ 0.08 1.75\\ -0.10 1.58\\ 0.02 2.55\\ -0.05 2.00\\ 0.11 1.18\\ -0.17 1.45\\ 0.04 2.32\\ -0.08 0.88\\ 0.14 1.60\\ -0.01 1.02\\ 0.02 2.42\\ -0.12 1.80\\ 0.06 2.05\\ -0.03 1.65\\ 0.01 2.80\\ -0.15 1.30\\ 0.07 0.90\\ -0.04 2.18\\ 0.12 1.75\\ -0.09 1.38\\ 0.02 0.75\\}

% Fibroblasts MT
\violin{b9}{4.75}{MT}{y w\\ 1.68 0\\ 2.2 0.01\\ 2.7 0.025\\ 3.2 0.06\\ 3.7 0.12\\ 4.2 0.17\\ 4.8 0.195\\ 5.5 0.2\\ 6.2 0.19\\ 6.8 0.16\\ 7.3 0.11\\ 7.8 0.06\\ 8.3 0.025\\ 9.0 0\\}
\inbox{4.75}{MT}{3.0}{4.5}{5.4}{6.1}{8.0}
\pts{4.75}{x y\\ -0.14 5.40\\ 0.06 5.80\\ 0.16 5.20\\ -0.04 4.70\\ 0.11 6.30\\ -0.17 5.60\\ 0.02 3.90\\ -0.08 6.70\\ 0.12 4.60\\ -0.15 5.05\\ 0.17 5.50\\ -0.05 6.10\\ 0.04 7.30\\ -0.10 4.30\\ 0.00 5.50\\ 0.12 6.50\\ -0.13 6.40\\ -0.02 7.70\\ 0.04 3.40\\ -0.07 4.95\\ 0.16 5.90\\ 0.09 5.00\\ -0.10 6.90\\ 0.05 6.95\\ -0.03 3.20\\ 0.11 5.70\\ -0.16 4.85\\ 0.07 4.10\\ -0.11 5.55\\ 0.15 6.05\\ -0.01 6.40\\ 0.01 8.00\\ -0.04 7.50\\ 0.00 3.05\\ 0.09 4.40\\ -0.18 5.35\\ 0.18 5.45\\ -0.06 4.20\\ 0.02 7.85\\ -0.12 6.00\\ 0.08 5.30\\ -0.08 4.50\\ 0.04 7.40\\ -0.02 7.95\\ 0.06 5.10\\ -0.16 5.15\\ 0.13 6.25\\ -0.06 5.65\\ 0.08 4.00\\ -0.11 6.35\\ 0.01 5.85\\ 0.14 4.75\\ -0.03 7.10\\ 0.07 6.75\\ -0.15 5.75\\ 0.05 3.60\\ -0.05 3.75\\}
\pts{4.75}{x y\\ 0.10 5.30\\ -0.06 5.55\\ 0.15 5.70\\ -0.13 5.45\\ 0.03 5.95\\ -0.09 4.60\\ 0.12 5.40\\ -0.16 5.85\\ 0.07 4.25\\ -0.02 6.55\\ 0.13 4.95\\ -0.11 4.05\\ 0.00 5.60\\ 0.09 6.70\\ -0.07 7.05\\ 0.05 3.50\\ -0.14 6.20\\ 0.16 5.30\\ -0.04 4.40\\ 0.08 6.30\\ -0.10 5.90\\ 0.02 7.70\\ -0.05 6.85\\ 0.11 4.55\\ -0.17 5.50\\ 0.04 7.20\\ -0.08 3.85\\ 0.14 5.95\\ -0.01 3.30\\ 0.02 7.55\\ -0.12 6.50\\ 0.06 6.95\\ -0.03 6.15\\ 0.01 7.90\\ -0.15 4.90\\ 0.07 3.95\\ -0.04 7.35\\ 0.12 6.45\\ -0.09 5.20\\ 0.02 3.15\\}

% Fibroblasts WT
\violin{b10}{5.25}{WT}{y w\\ 0.46 0\\ 1.0 0.008\\ 1.5 0.015\\ 2.0 0.03\\ 2.5 0.055\\ 3.0 0.09\\ 3.5 0.135\\ 4.0 0.17\\ 4.6 0.195\\ 5.1 0.2\\ 5.7 0.19\\ 6.3 0.16\\ 6.8 0.13\\ 7.3 0.09\\ 7.8 0.06\\ 8.3 0.035\\ 8.8 0.015\\ 9.6 0\\}
\inbox{5.25}{WT}{2.1}{4.0}{5.0}{5.9}{8.2}
\pts{5.25}{x y\\ -0.14 5.00\\ 0.06 5.40\\ 0.16 4.80\\ -0.04 4.30\\ 0.11 5.90\\ -0.17 5.20\\ 0.02 3.40\\ -0.08 6.30\\ 0.12 4.20\\ -0.15 4.65\\ 0.17 5.10\\ -0.05 5.75\\ 0.04 7.00\\ -0.10 3.90\\ 0.00 5.05\\ 0.11 6.15\\ -0.12 6.05\\ -0.02 7.40\\ 0.03 2.90\\ -0.07 4.55\\ 0.16 5.50\\ 0.09 4.60\\ -0.09 6.60\\ 0.05 6.55\\ -0.02 2.50\\ 0.11 5.30\\ -0.16 4.45\\ 0.07 3.70\\ -0.11 5.15\\ 0.15 5.65\\ -0.01 6.00\\ 0.01 8.20\\ -0.04 7.25\\ 0.00 2.10\\ 0.08 3.95\\ -0.18 4.95\\ 0.18 5.05\\ -0.06 3.80\\ 0.02 7.70\\ -0.12 5.60\\ 0.08 4.90\\ -0.07 4.05\\ 0.04 7.10\\ -0.02 7.90\\ 0.06 4.70\\ -0.16 4.75\\ 0.13 5.85\\ -0.06 5.25\\ 0.07 3.55\\ -0.11 5.95\\ 0.01 5.45\\ 0.14 4.35\\ -0.03 6.80\\ 0.07 6.40\\ -0.15 5.35\\ 0.03 3.10\\ -0.04 3.30\\}
\pts{5.25}{x y\\ 0.10 4.90\\ -0.06 5.15\\ 0.15 5.30\\ -0.13 5.05\\ 0.03 5.55\\ -0.09 4.20\\ 0.12 5.00\\ -0.16 5.45\\ 0.07 3.85\\ -0.02 6.20\\ 0.13 4.55\\ -0.11 3.65\\ 0.00 5.20\\ 0.09 6.30\\ -0.07 6.70\\ 0.05 3.00\\ -0.14 5.80\\ 0.16 4.95\\ -0.04 4.00\\ 0.08 5.95\\ -0.10 5.50\\ 0.02 7.50\\ -0.05 6.45\\ 0.11 4.15\\ -0.17 5.10\\ 0.04 6.90\\ -0.08 3.35\\ 0.14 5.55\\ -0.01 2.70\\ 0.02 7.20\\ -0.12 6.10\\ 0.06 6.65\\ -0.03 5.75\\ 0.01 7.80\\ -0.15 4.50\\ 0.07 3.50\\ -0.04 7.00\\ 0.12 6.05\\ -0.09 4.80\\ 0.02 2.30\\}

\node[font=\fontsize{10}{12}\selectfont] at (axis cs:1,10.4) {p=0.17};
\node[font=\fontsize{10}{12}\selectfont] at (axis cs:2,10.4) {p<0.05};
\node[font=\fontsize{10}{12}\selectfont] at (axis cs:3,10.4) {p=0.86};
\node[font=\fontsize{10}{12}\selectfont] at (axis cs:4,10.4) {p=1.00};
\node[font=\fontsize{10}{12}\selectfont] at (axis cs:5,10.4) {p<0.05};
\node[anchor=west, font=\fontsize{10.5}{12}\selectfont, xshift=7pt, yshift=-6pt] at (rel axis cs:1,1) {Group};
\end{axis}
\end{tikzpicture}
\end{document}
